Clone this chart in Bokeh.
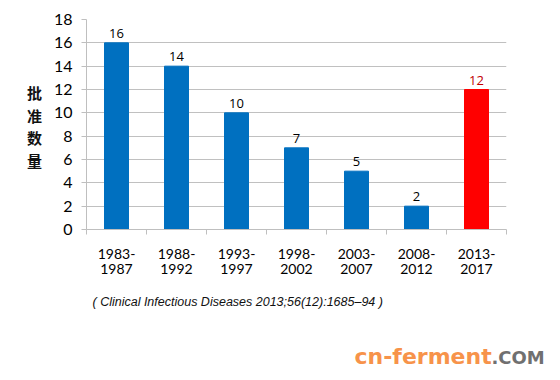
from bokeh.plotting import figure
from bokeh.models import Range1d, LinearAxis, FixedTicker, Label, ColumnDataSource
from bokeh.layouts import column, row
from bokeh.embed import file_html
from bokeh.resources import INLINE
from bokeh.core.properties import value

periods = ["1983-\n1987", "1988-\n1992", "1993-\n1997", "1998-\n2002",
           "2003-\n2007", "2008-\n2012", "2013-\n2017"]
counts = [16, 14, 10, 7, 5, 2, 12]
bar_colors = ["#0070c0"] * 6 + ["#ff0000"]
label_colors = ["#000000"] * 6 + ["#c00000"]
y_ticks = list(range(0, 19, 2))
y_title_chars = ["批", "准", "数", "量"]
caption = "( Clinical Infectious Diseases 2013;56(12):1685–94 )"
mark_main = "cn-ferment"
mark_tail = ".COM"

TOP_H = 285
BOT_H = 87
LEFT_W = 50
TOTAL_W = 552
B_TOP = 19
B_BOT = 56

# ---- left strip with the vertical Chinese axis title ----
pl = figure(width=LEFT_W, height=TOP_H, output_backend="svg", toolbar_location=None,
            x_range=Range1d(0, LEFT_W), y_range=Range1d(B_BOT, TOP_H - B_TOP),
            min_border_left=0, min_border_right=0,
            min_border_top=B_TOP, min_border_bottom=B_BOT,
            x_axis_location=None, y_axis_location=None)
pl.outline_line_color = None
pl.grid.visible = False
for i, ch in enumerate(y_title_chars):
    pl.add_layout(Label(x=34, y=TOP_H - 92 - i * 22.7, text=ch,
                        text_font="Noto Sans CJK SC", text_font_style="bold",
                        text_font_size="15px", text_color="#111111",
                        text_align="center", text_baseline="middle"))

# ---- main chart ----
xs = [i + 0.5 for i in range(len(counts))]
src = ColumnDataSource(dict(x=xs, top=counts, color=bar_colors,
                            lab=[str(c) for c in counts], lcolor=label_colors))

p = figure(width=TOTAL_W - LEFT_W, height=TOP_H, output_backend="svg",
           toolbar_location=None,
           x_range=Range1d(0, len(counts)), y_range=Range1d(0, 18),
           min_border_left=33, min_border_right=46, min_border_top=B_TOP,
           min_border_bottom=B_BOT, x_axis_location=None, y_axis_location=None)
p.outline_line_color = None
p.background_fill_color = "white"
p.border_fill_color = "white"

p.vbar(x="x", top="top", width=0.4, bottom=0, color="color", source=src)
p.text(x="x", y="top", text="lab", text_color="lcolor", source=src,
       text_align="center", text_baseline="bottom", y_offset=-5,
       text_font=value("Open Sans"), text_font_size="13px")

yax = LinearAxis(ticker=FixedTicker(ticks=y_ticks))
yax.axis_line_color = "#bfbfbf"
yax.major_tick_line_color = "#bfbfbf"
yax.major_tick_out = 5
yax.major_tick_in = 0
yax.minor_tick_line_color = None
yax.major_label_text_font = "Lato"
yax.major_label_text_font_size = "16px"
yax.major_label_text_color = "#000000"
yax.major_label_standoff = 9
p.add_layout(yax, "left")

xax = LinearAxis(ticker=FixedTicker(ticks=list(range(len(counts) + 1))))
xax.axis_line_color = "#bfbfbf"
xax.major_tick_line_color = "#bfbfbf"
xax.major_tick_out = 5
xax.major_tick_in = 0
xax.minor_tick_line_color = None
xax.major_label_text_alpha = 0
xax.major_label_text_font_size = "1px"
p.add_layout(xax, "below")

xlab = LinearAxis(ticker=FixedTicker(ticks=xs))
xlab.axis_line_color = None
xlab.major_tick_line_color = None
xlab.minor_tick_line_color = None
xlab.major_label_overrides = {x: s for x, s in zip(xs, periods)}
xlab.major_label_text_font = "Lato"
xlab.major_label_text_font_size = "14px"
xlab.major_label_text_color = "#000000"
xlab.major_label_standoff = 4
xlab.major_label_text_line_height = 0.9
p.add_layout(xlab, "below")

p.xgrid.visible = False
p.ygrid.ticker = FixedTicker(ticks=y_ticks)
p.ygrid.grid_line_color = "#c0c0c0"
p.ygrid.grid_line_width = 1.2

# ---- bottom strip: citation and watermark ----
pb = figure(width=TOTAL_W, height=BOT_H, output_backend="svg", toolbar_location=None,
            x_range=Range1d(0, TOTAL_W), y_range=Range1d(0, BOT_H), min_border=0,
            x_axis_location=None, y_axis_location=None)
pb.outline_line_color = None
pb.grid.visible = False
pb.add_layout(Label(x=92, y=BOT_H - 16, text=caption, text_font="Liberation Sans",
                    text_font_style="italic", text_font_size="12.5px",
                    text_color="#111111", text_baseline="middle"))
pb.add_layout(Label(x=354, y=16.5, text=mark_main, text_font="DejaVu Sans",
                    text_font_style="bold", text_font_size="22px",
                    text_color="#f7934a", text_baseline="middle"))
pb.add_layout(Label(x=491, y=15.5, text=mark_tail, text_font="DejaVu Sans",
                    text_font_style="bold", text_font_size="18px",
                    text_color="#707070", text_baseline="middle"))

layout = column(row(pl, p), pb)
open("out.html", "w").write(file_html(layout, INLINE))
